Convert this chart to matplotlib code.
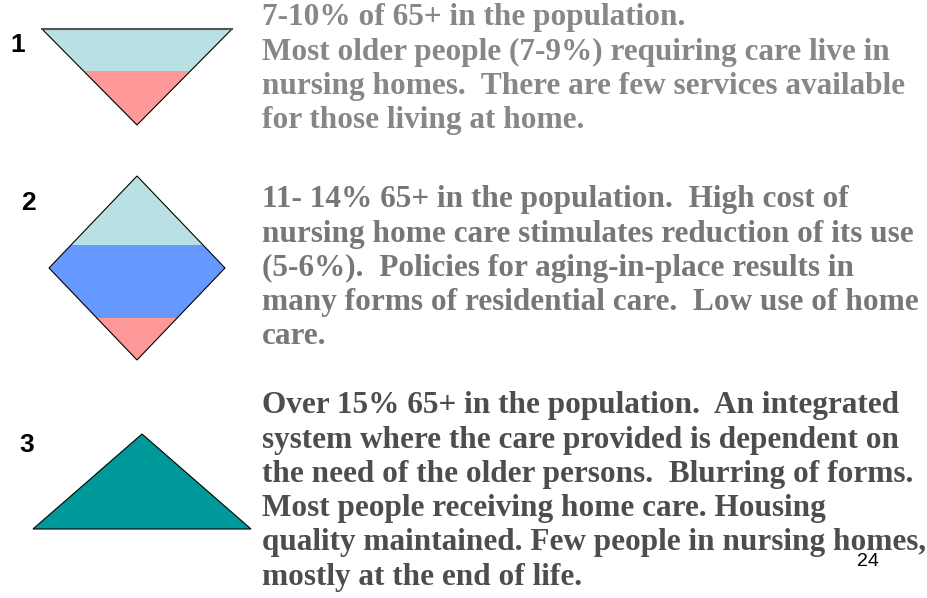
import matplotlib.pyplot as plt
from matplotlib.patches import Polygon

# stage labels and descriptions
stage_labels = ["1", "2", "3"]
stage_text = [
    ["7-10% of 65+ in the population.",
     "Most older people (7-9%) requiring care live in",
     "nursing homes.  There are few services available",
     "for those living at home."],
    ["11- 14% 65+ in the population.  High cost of",
     "nursing home care stimulates reduction of its use",
     "(5-6%).  Policies for aging-in-place results in",
     "many forms of residential care.  Low use of home",
     "care."],
    ["Over 15% 65+ in the population.  An integrated",
     "system where the care provided is dependent on",
     "the need of the older persons.  Blurring of forms.",
     "Most people receiving home care. Housing",
     "quality maintained. Few people in nursing homes,",
     "mostly at the end of life."],
]
text_colors = ["#878787", "#777777", "#4d4d4d"]
page_number = "24"

# fill colours for home care / residential care / nursing home
c_home = "#b9e0e2"
c_resid = "#6699ff"
c_nursing = "#ff9999"
c_integrated = "#009999"

fig = plt.figure(figsize=(9.28, 5.98), dpi=100)
ax = fig.add_axes([0, 0, 1, 1])
ax.set_xlim(0, 928)
ax.set_ylim(598, 0)
ax.axis("off")


def poly(pts, color, edge="none", lw=0):
    ax.add_patch(Polygon(pts, closed=True, facecolor=color, edgecolor=edge, lw=lw))


# stage 1: inverted triangle
cx = 137
top, apex, split = 29, 125, 71
half = 95
hw = half * (apex - split) / (apex - top)
poly([(cx - half, top), (cx + half, top), (cx + hw, split), (cx - hw, split)], c_home)
poly([(cx - hw, split), (cx + hw, split), (cx, apex)], c_nursing)
poly([(cx - half, top), (cx + half, top), (cx, apex)], "none", "black", 0.8)
ax.plot([cx - half, cx + half], [top, top], color="#555555", lw=1.5)

# stage 2: diamond
t, m, b, hw2 = 176, 268, 360, 88
s1, s2 = 245, 318
w1 = hw2 * (s1 - t) / (m - t)
w2 = hw2 * (b - s2) / (b - m)
poly([(cx, t), (cx + w1, s1), (cx - w1, s1)], c_home)
poly([(cx - w1, s1), (cx + w1, s1), (cx + hw2, m), (cx + w2, s2),
      (cx - w2, s2), (cx - hw2, m)], c_resid)
poly([(cx - w2, s2), (cx + w2, s2), (cx, b)], c_nursing)
poly([(cx, t), (cx + hw2, m), (cx, b), (cx - hw2, m)], "none", "black", 0.8)

# stage 3: triangle
poly([(33, 529), (251, 529), (142, 434)], c_integrated, "black", 0.8)

label_pos = [(18, 45), (28, 203), (27, 445)]
for lab, (x, y) in zip(stage_labels, label_pos):
    ax.text(x, y, lab, fontsize=19, fontweight="bold", family="Liberation Sans",
            ha="center", va="center", color="black")

block_y = [18, 200, 406]
line_h = 34.2
for lines, y0, col in zip(stage_text, block_y, text_colors):
    for i, line in enumerate(lines):
        ax.text(262, y0 + i * line_h, line, fontsize=22.5, fontweight="bold",
                family="Liberation Serif", color=col, ha="left", va="center")

ax.text(868, 561, page_number, fontsize=14, family="Liberation Sans",
        ha="center", va="center", color="black")

fig.savefig("out.png", dpi=100)
